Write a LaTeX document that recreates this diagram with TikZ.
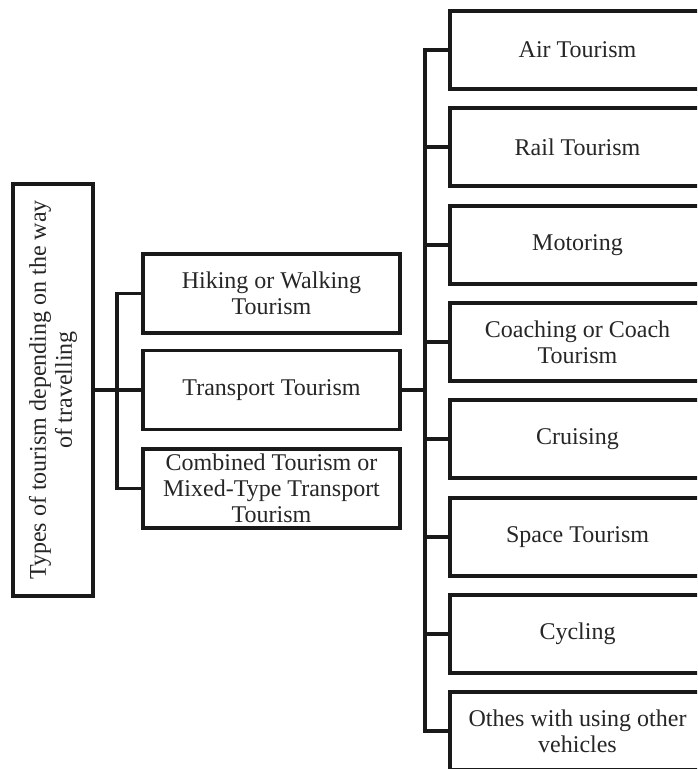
\documentclass[tikz,border=0pt]{standalone}
\usepackage{fontspec}
\setmainfont{Liberation Serif}
\begin{document}
\begin{tikzpicture}[x=1pt,y=-1pt,
  box/.style={draw=black!90, line width=3.3pt, rectangle, align=center, inner sep=0pt,
    font=\fontsize{24}{26}\selectfont, text=black!85},
  midbox/.style={box, minimum width=257pt, minimum height=79pt},
  rbox/.style={box, minimum width=255pt, minimum height=78pt},
  conn/.style={draw=black!90, line width=3.3pt}]
\clip (0,0) rectangle (697,769);
\fill[white] (0,0) rectangle (697,769);
% root
\node[box, minimum width=412pt, minimum height=80pt, rotate=90] (root) at (53,390)
  {Types of tourism depending on the way\\ of travelling};
% middle
\node[midbox] (hik) at (271.5,293.5) {Hiking or Walking\\ Tourism};
\node[midbox] (trans) at (271.5,390) {Transport Tourism};
\node[midbox] (comb) at (271.5,488.5) {Combined Tourism or\\ Mixed-Type Transport\\ Tourism};
% right
\node[rbox] (air)  at (577.5,50)  {Air Tourism};
\node[rbox] (rail) at (577.5,147) {Rail Tourism};
\node[rbox] (mot)  at (577.5,245) {Motoring};
\node[rbox] (coa)  at (577.5,342) {Coaching or Coach\\ Tourism};
\node[rbox] (cru)  at (577.5,439) {Cruising};
\node[rbox] (spa)  at (577.5,537) {Space Tourism};
\node[rbox] (cyc)  at (577.5,634) {Cycling};
\node[rbox] (oth)  at (577.5,731) {Othes with using other\\ vehicles};
% junctions
\coordinate (j1) at (117,390);
\coordinate (j2) at (425,390);
\draw[conn] (root.south) -- (trans.west);
\draw[conn] (j1) |- (hik.west);
\draw[conn] (j1) |- (comb.west);
\draw[conn] (trans.east) -- (j2);
\foreach \n in {air,rail,mot,coa,cru,spa,cyc,oth}
  \draw[conn] (j2) |- (\n.west);
\end{tikzpicture}
\end{document}
